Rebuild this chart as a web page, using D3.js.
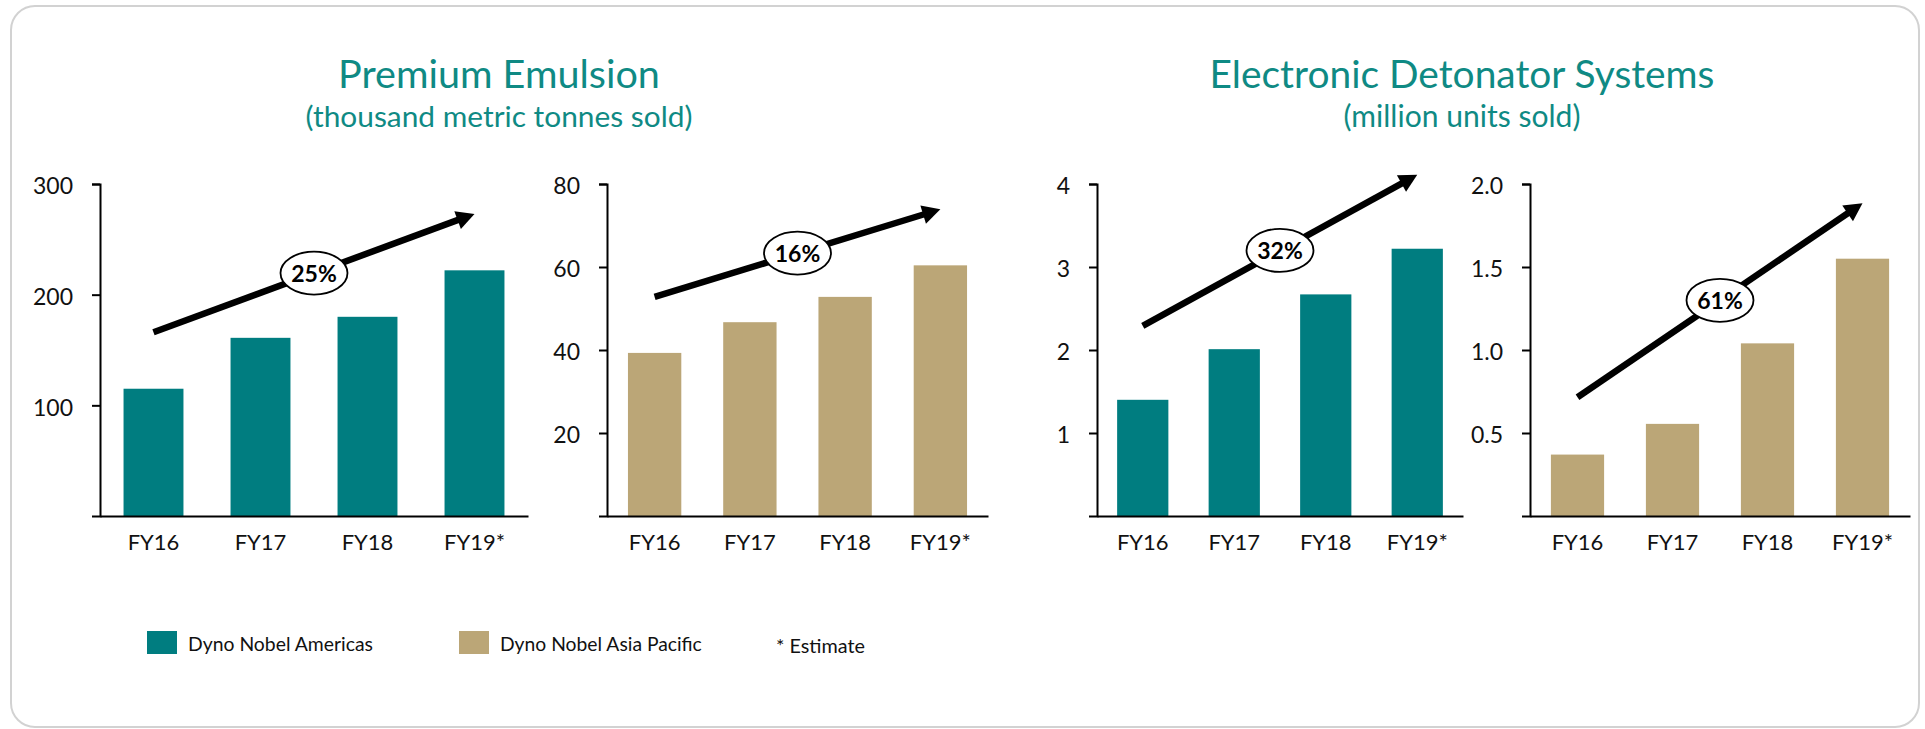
<!DOCTYPE html>
<html>
<head>
<meta charset="utf-8">
<script src="https://cdn.jsdelivr.net/npm/d3@7"></script>
<style>
  html, body { margin: 0; padding: 0; background: #ffffff; }
  svg { display: block; }
  text { font-family: Lato, "Open Sans", "DejaVu Sans", sans-serif; }
</style>
</head>
<body>
<svg id="chart" width="1925" height="729"></svg>
<script>
// ---------------- data ----------------
const categories = ["FY16", "FY17", "FY18", "FY19*"];

const emulsionAmericas    = [115, 161, 180, 222];
const emulsionAsiaPacific = [39.3, 46.7, 52.8, 60.4];
const edsAmericas         = [1.40, 2.01, 2.67, 3.22];
const edsAsiaPacific      = [0.37, 0.555, 1.04, 1.55];

const yMaxes = [300, 80, 4, 2];
const tickValues1 = [100, 200, 300];
const tickValues2 = [20, 40, 60, 80];
const tickValues3 = [1, 2, 3, 4];
const tickValues4 = [0.5, 1.0, 1.5, 2.0];
const tickLabels1 = ["100", "200", "300"];
const tickLabels2 = ["20", "40", "60", "80"];
const tickLabels3 = ["1", "2", "3", "4"];
const tickLabels4 = ["0.5", "1.0", "1.5", "2.0"];

const cagrLabels   = ["25%", "16%", "32%", "61%"];
const arrowFromVal = [166, 52.8, 2.29, 0.715];   // at FY16
const arrowToVal   = [273, 73.9, 4.11, 1.884];   // at FY19*

const groupTitles    = ["Premium Emulsion", "Electronic Detonator Systems"];
const groupSubtitles = ["(thousand metric tonnes sold)", "(million units sold)"];

const legendLabels = ["Dyno Nobel Americas", "Dyno Nobel Asia Pacific"];
const footnote = "* Estimate";

// ---------------- styles ----------------
const TEAL = "#007d80";
const TAN = "#bba677";
const TITLE_COLOR = "#0f8a84";

const svg = d3.select("#chart");

// frame
svg.append("rect")
  .attr("x", 11).attr("y", 6).attr("width", 1908).attr("height", 721)
  .attr("rx", 24).attr("ry", 24)
  .attr("fill", "#ffffff").attr("stroke", "#d2d2d2").attr("stroke-width", 2);

function fitWidth(sel, target) {
  const fs = parseFloat(sel.attr("font-size"));
  const w = sel.node().getComputedTextLength();
  sel.attr("font-size", (fs * target / w).toFixed(2));
}

// titles
const titleCenters = [499, 1462];
const titleWidths = [322, 505];
const subWidths = [387, 237];
groupTitles.forEach((t, i) => {
  const tt = svg.append("text")
    .attr("x", titleCenters[i]).attr("y", 88)
    .attr("text-anchor", "middle").attr("fill", TITLE_COLOR)
    .attr("font-size", 35).text(t);
  fitWidth(tt, titleWidths[i]);
  const st = svg.append("text")
    .attr("x", titleCenters[i]).attr("y", 127)
    .attr("text-anchor", "middle").attr("fill", TITLE_COLOR)
    .attr("font-size", 26).text(groupSubtitles[i]);
  fitWidth(st, subWidths[i]);
});

// panels
const panels = [
  { values: emulsionAmericas,    color: TEAL, ticks: tickValues1, labels: tickLabels1, x0: 100,  x1: 528 },
  { values: emulsionAsiaPacific, color: TAN,  ticks: tickValues2, labels: tickLabels2, x0: 607,  x1: 988 },
  { values: edsAmericas,         color: TEAL, ticks: tickValues3, labels: tickLabels3, x0: 1097, x1: 1463 },
  { values: edsAsiaPacific,      color: TAN,  ticks: tickValues4, labels: tickLabels4, x0: 1530, x1: 1910 }
];
const yTop = 184, yBottom = 516;

panels.forEach((p, i) => {
  const g = svg.append("g");
  const x = d3.scaleBand().domain(categories).range([p.x0, p.x1])
    .paddingInner(0.44).paddingOuter(0.22);
  const y = d3.scaleLinear().domain([0, yMaxes[i]]).range([yBottom, yTop]);

  // bars
  g.selectAll("rect.bar").data(p.values).join("rect")
    .attr("class", "bar")
    .attr("x", (d, j) => x(categories[j]))
    .attr("width", x.bandwidth())
    .attr("y", d => y(d))
    .attr("height", d => y(0) - y(d))
    .attr("fill", p.color);

  // x axis
  const xa = g.append("g").attr("transform", `translate(0,${yBottom})`)
    .call(d3.axisBottom(x).tickSize(0).tickSizeOuter(0).tickPadding(18));
  xa.select(".domain").attr("stroke", "#000").attr("stroke-width", 2);
  xa.selectAll("text").attr("font-size", 22).attr("fill", "#111")
    .style("font-family", "Lato, 'Open Sans', sans-serif");

  // y axis
  const ya = g.append("g").attr("transform", `translate(${p.x0},0)`)
    .call(d3.axisLeft(y).tickValues(p.ticks)
      .tickFormat((d, k) => p.labels[k])
      .tickSize(8).tickSizeOuter(8).tickPadding(19));
  ya.select(".domain").attr("stroke", "#000").attr("stroke-width", 2);
  ya.selectAll("line").attr("stroke", "#000").attr("stroke-width", 2);
  ya.selectAll("text").attr("font-size", 23).attr("fill", "#111")
    .attr("dy", "0.42em")
    .style("font-family", "Lato, 'Open Sans', sans-serif");

  // CAGR arrow
  const xs = x(categories[0]) + x.bandwidth() / 2;
  const xe = x(categories[categories.length - 1]) + x.bandwidth() / 2;
  const ys = y(arrowFromVal[i]);
  const ye = y(arrowToVal[i]);
  const dx = xe - xs, dy = ye - ys;
  const len = Math.hypot(dx, dy);
  const ux = dx / len, uy = dy / len;
  const headLen = 18, headHalf = 9.5;
  const bx = xe - ux * headLen, by = ye - uy * headLen;
  g.append("line")
    .attr("x1", xs).attr("y1", ys).attr("x2", bx + ux * 2).attr("y2", by + uy * 2)
    .attr("stroke", "#000").attr("stroke-width", 6.5);
  g.append("path")
    .attr("d", `M${xe},${ye} L${bx - uy * headHalf},${by + ux * headHalf} L${bx + uy * headHalf},${by - ux * headHalf} Z`)
    .attr("fill", "#000");

  const mx = (xs + xe) / 2, my = (ys + ye) / 2;
  g.append("ellipse")
    .attr("cx", mx).attr("cy", my).attr("rx", 33.5).attr("ry", 21.5)
    .attr("fill", "#fff").attr("stroke", "#000").attr("stroke-width", 1.8);
  g.append("text")
    .attr("x", mx).attr("y", my + 8.5)
    .attr("text-anchor", "middle").attr("font-weight", 700)
    .attr("font-size", 23).attr("fill", "#000")
    .text(cagrLabels[i]);
});

// legend
const legendColors = [TEAL, TAN];
const legendX = [147, 459];
const legendTextW = [185, 202];
legendLabels.forEach((l, i) => {
  svg.append("rect")
    .attr("x", legendX[i]).attr("y", 631).attr("width", 30).attr("height", 23)
    .attr("fill", legendColors[i]);
  const t = svg.append("text")
    .attr("x", legendX[i] + 41).attr("y", 651)
    .attr("font-size", 19).attr("fill", "#111").text(l);
  fitWidth(t, legendTextW[i]);
});
const fn = svg.append("text")
  .attr("x", 776).attr("y", 653)
  .attr("font-size", 19).attr("fill", "#111").text(footnote);
fitWidth(fn, 89);
</script>
</body>
</html>
